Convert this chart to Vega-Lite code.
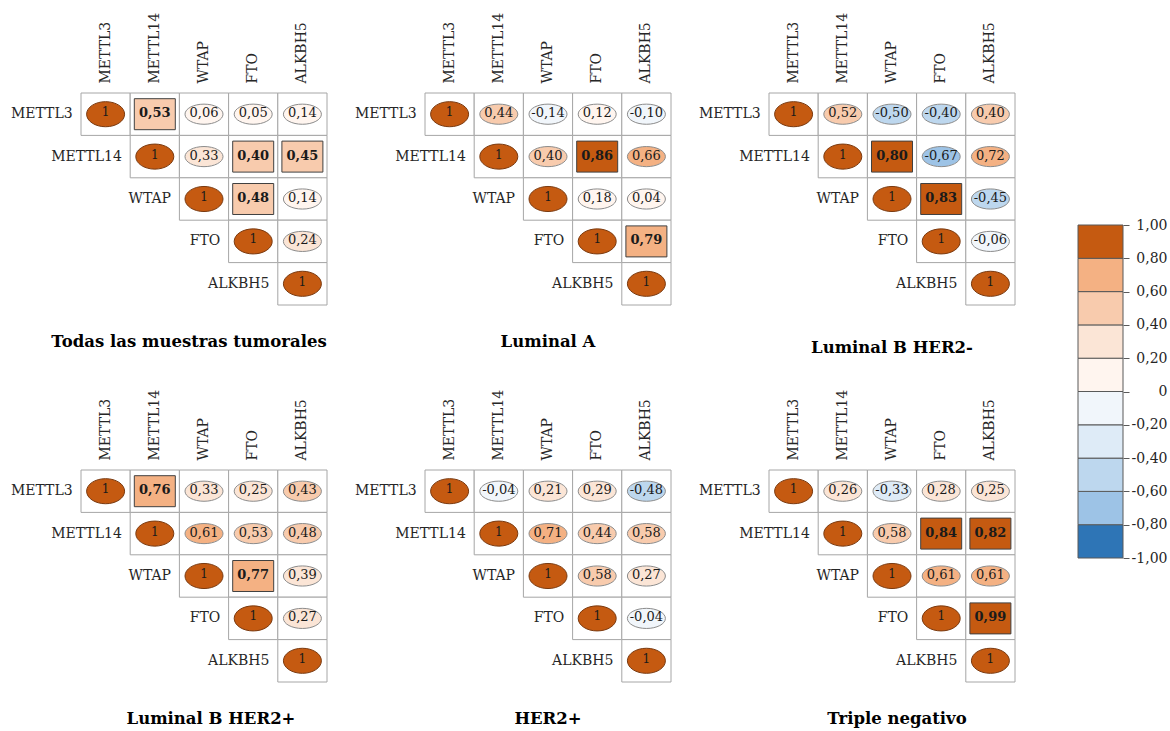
{
  "$schema": "https://vega.github.io/schema/vega-lite/v6.json",
  "padding": {"left": 10, "top": 12, "right": 5, "bottom": 5},
  "config": {
    "view": {"stroke": null},
    "font": "DejaVu Serif",
    "title": {"font": "DejaVu Serif", "fontSize": 16.5, "fontWeight": "bold", "color": "#000000", "orient": "bottom", "frame": "group", "offset": 28, "anchor": "middle"},
    "axis": {"labelFont": "DejaVu Serif", "labelColor": "#262626", "title": null, "grid": false}
  },
  "datasets": {
    "corr": [
      {"grupo": "Todas las muestras tumorales", "fila": "METTL3", "columna": "METTL3", "r": 1, "sig": false},
      {"grupo": "Todas las muestras tumorales", "fila": "METTL3", "columna": "METTL14", "r": 0.53, "sig": true},
      {"grupo": "Todas las muestras tumorales", "fila": "METTL3", "columna": "WTAP", "r": 0.06, "sig": false},
      {"grupo": "Todas las muestras tumorales", "fila": "METTL3", "columna": "FTO", "r": 0.05, "sig": false},
      {"grupo": "Todas las muestras tumorales", "fila": "METTL3", "columna": "ALKBH5", "r": 0.14, "sig": false},
      {"grupo": "Todas las muestras tumorales", "fila": "METTL14", "columna": "METTL14", "r": 1, "sig": false},
      {"grupo": "Todas las muestras tumorales", "fila": "METTL14", "columna": "WTAP", "r": 0.33, "sig": false},
      {"grupo": "Todas las muestras tumorales", "fila": "METTL14", "columna": "FTO", "r": 0.40, "sig": true},
      {"grupo": "Todas las muestras tumorales", "fila": "METTL14", "columna": "ALKBH5", "r": 0.45, "sig": true},
      {"grupo": "Todas las muestras tumorales", "fila": "WTAP", "columna": "WTAP", "r": 1, "sig": false},
      {"grupo": "Todas las muestras tumorales", "fila": "WTAP", "columna": "FTO", "r": 0.48, "sig": true},
      {"grupo": "Todas las muestras tumorales", "fila": "WTAP", "columna": "ALKBH5", "r": 0.14, "sig": false},
      {"grupo": "Todas las muestras tumorales", "fila": "FTO", "columna": "FTO", "r": 1, "sig": false},
      {"grupo": "Todas las muestras tumorales", "fila": "FTO", "columna": "ALKBH5", "r": 0.24, "sig": false},
      {"grupo": "Todas las muestras tumorales", "fila": "ALKBH5", "columna": "ALKBH5", "r": 1, "sig": false},

      {"grupo": "Luminal A", "fila": "METTL3", "columna": "METTL3", "r": 1, "sig": false},
      {"grupo": "Luminal A", "fila": "METTL3", "columna": "METTL14", "r": 0.44, "sig": false},
      {"grupo": "Luminal A", "fila": "METTL3", "columna": "WTAP", "r": -0.14, "sig": false},
      {"grupo": "Luminal A", "fila": "METTL3", "columna": "FTO", "r": 0.12, "sig": false},
      {"grupo": "Luminal A", "fila": "METTL3", "columna": "ALKBH5", "r": -0.10, "sig": false},
      {"grupo": "Luminal A", "fila": "METTL14", "columna": "METTL14", "r": 1, "sig": false},
      {"grupo": "Luminal A", "fila": "METTL14", "columna": "WTAP", "r": 0.40, "sig": false},
      {"grupo": "Luminal A", "fila": "METTL14", "columna": "FTO", "r": 0.86, "sig": true},
      {"grupo": "Luminal A", "fila": "METTL14", "columna": "ALKBH5", "r": 0.66, "sig": false},
      {"grupo": "Luminal A", "fila": "WTAP", "columna": "WTAP", "r": 1, "sig": false},
      {"grupo": "Luminal A", "fila": "WTAP", "columna": "FTO", "r": 0.18, "sig": false},
      {"grupo": "Luminal A", "fila": "WTAP", "columna": "ALKBH5", "r": 0.04, "sig": false},
      {"grupo": "Luminal A", "fila": "FTO", "columna": "FTO", "r": 1, "sig": false},
      {"grupo": "Luminal A", "fila": "FTO", "columna": "ALKBH5", "r": 0.79, "sig": true},
      {"grupo": "Luminal A", "fila": "ALKBH5", "columna": "ALKBH5", "r": 1, "sig": false},

      {"grupo": "Luminal B HER2-", "fila": "METTL3", "columna": "METTL3", "r": 1, "sig": false},
      {"grupo": "Luminal B HER2-", "fila": "METTL3", "columna": "METTL14", "r": 0.52, "sig": false},
      {"grupo": "Luminal B HER2-", "fila": "METTL3", "columna": "WTAP", "r": -0.50, "sig": false},
      {"grupo": "Luminal B HER2-", "fila": "METTL3", "columna": "FTO", "r": -0.40, "sig": false},
      {"grupo": "Luminal B HER2-", "fila": "METTL3", "columna": "ALKBH5", "r": 0.40, "sig": false},
      {"grupo": "Luminal B HER2-", "fila": "METTL14", "columna": "METTL14", "r": 1, "sig": false},
      {"grupo": "Luminal B HER2-", "fila": "METTL14", "columna": "WTAP", "r": 0.80, "sig": true},
      {"grupo": "Luminal B HER2-", "fila": "METTL14", "columna": "FTO", "r": -0.67, "sig": false},
      {"grupo": "Luminal B HER2-", "fila": "METTL14", "columna": "ALKBH5", "r": 0.72, "sig": false},
      {"grupo": "Luminal B HER2-", "fila": "WTAP", "columna": "WTAP", "r": 1, "sig": false},
      {"grupo": "Luminal B HER2-", "fila": "WTAP", "columna": "FTO", "r": 0.83, "sig": true},
      {"grupo": "Luminal B HER2-", "fila": "WTAP", "columna": "ALKBH5", "r": -0.45, "sig": false},
      {"grupo": "Luminal B HER2-", "fila": "FTO", "columna": "FTO", "r": 1, "sig": false},
      {"grupo": "Luminal B HER2-", "fila": "FTO", "columna": "ALKBH5", "r": -0.06, "sig": false},
      {"grupo": "Luminal B HER2-", "fila": "ALKBH5", "columna": "ALKBH5", "r": 1, "sig": false},

      {"grupo": "Luminal B HER2+", "fila": "METTL3", "columna": "METTL3", "r": 1, "sig": false},
      {"grupo": "Luminal B HER2+", "fila": "METTL3", "columna": "METTL14", "r": 0.76, "sig": true},
      {"grupo": "Luminal B HER2+", "fila": "METTL3", "columna": "WTAP", "r": 0.33, "sig": false},
      {"grupo": "Luminal B HER2+", "fila": "METTL3", "columna": "FTO", "r": 0.25, "sig": false},
      {"grupo": "Luminal B HER2+", "fila": "METTL3", "columna": "ALKBH5", "r": 0.43, "sig": false},
      {"grupo": "Luminal B HER2+", "fila": "METTL14", "columna": "METTL14", "r": 1, "sig": false},
      {"grupo": "Luminal B HER2+", "fila": "METTL14", "columna": "WTAP", "r": 0.61, "sig": false},
      {"grupo": "Luminal B HER2+", "fila": "METTL14", "columna": "FTO", "r": 0.53, "sig": false},
      {"grupo": "Luminal B HER2+", "fila": "METTL14", "columna": "ALKBH5", "r": 0.48, "sig": false},
      {"grupo": "Luminal B HER2+", "fila": "WTAP", "columna": "WTAP", "r": 1, "sig": false},
      {"grupo": "Luminal B HER2+", "fila": "WTAP", "columna": "FTO", "r": 0.77, "sig": true},
      {"grupo": "Luminal B HER2+", "fila": "WTAP", "columna": "ALKBH5", "r": 0.39, "sig": false},
      {"grupo": "Luminal B HER2+", "fila": "FTO", "columna": "FTO", "r": 1, "sig": false},
      {"grupo": "Luminal B HER2+", "fila": "FTO", "columna": "ALKBH5", "r": 0.27, "sig": false},
      {"grupo": "Luminal B HER2+", "fila": "ALKBH5", "columna": "ALKBH5", "r": 1, "sig": false},

      {"grupo": "HER2+", "fila": "METTL3", "columna": "METTL3", "r": 1, "sig": false},
      {"grupo": "HER2+", "fila": "METTL3", "columna": "METTL14", "r": -0.04, "sig": false},
      {"grupo": "HER2+", "fila": "METTL3", "columna": "WTAP", "r": 0.21, "sig": false},
      {"grupo": "HER2+", "fila": "METTL3", "columna": "FTO", "r": 0.29, "sig": false},
      {"grupo": "HER2+", "fila": "METTL3", "columna": "ALKBH5", "r": -0.48, "sig": false},
      {"grupo": "HER2+", "fila": "METTL14", "columna": "METTL14", "r": 1, "sig": false},
      {"grupo": "HER2+", "fila": "METTL14", "columna": "WTAP", "r": 0.71, "sig": false},
      {"grupo": "HER2+", "fila": "METTL14", "columna": "FTO", "r": 0.44, "sig": false},
      {"grupo": "HER2+", "fila": "METTL14", "columna": "ALKBH5", "r": 0.58, "sig": false},
      {"grupo": "HER2+", "fila": "WTAP", "columna": "WTAP", "r": 1, "sig": false},
      {"grupo": "HER2+", "fila": "WTAP", "columna": "FTO", "r": 0.58, "sig": false},
      {"grupo": "HER2+", "fila": "WTAP", "columna": "ALKBH5", "r": 0.27, "sig": false},
      {"grupo": "HER2+", "fila": "FTO", "columna": "FTO", "r": 1, "sig": false},
      {"grupo": "HER2+", "fila": "FTO", "columna": "ALKBH5", "r": -0.04, "sig": false},
      {"grupo": "HER2+", "fila": "ALKBH5", "columna": "ALKBH5", "r": 1, "sig": false},

      {"grupo": "Triple negativo", "fila": "METTL3", "columna": "METTL3", "r": 1, "sig": false},
      {"grupo": "Triple negativo", "fila": "METTL3", "columna": "METTL14", "r": 0.26, "sig": false},
      {"grupo": "Triple negativo", "fila": "METTL3", "columna": "WTAP", "r": -0.33, "sig": false},
      {"grupo": "Triple negativo", "fila": "METTL3", "columna": "FTO", "r": 0.28, "sig": false},
      {"grupo": "Triple negativo", "fila": "METTL3", "columna": "ALKBH5", "r": 0.25, "sig": false},
      {"grupo": "Triple negativo", "fila": "METTL14", "columna": "METTL14", "r": 1, "sig": false},
      {"grupo": "Triple negativo", "fila": "METTL14", "columna": "WTAP", "r": 0.58, "sig": false},
      {"grupo": "Triple negativo", "fila": "METTL14", "columna": "FTO", "r": 0.84, "sig": true},
      {"grupo": "Triple negativo", "fila": "METTL14", "columna": "ALKBH5", "r": 0.82, "sig": true},
      {"grupo": "Triple negativo", "fila": "WTAP", "columna": "WTAP", "r": 1, "sig": false},
      {"grupo": "Triple negativo", "fila": "WTAP", "columna": "FTO", "r": 0.61, "sig": false},
      {"grupo": "Triple negativo", "fila": "WTAP", "columna": "ALKBH5", "r": 0.61, "sig": false},
      {"grupo": "Triple negativo", "fila": "FTO", "columna": "FTO", "r": 1, "sig": false},
      {"grupo": "Triple negativo", "fila": "FTO", "columna": "ALKBH5", "r": 0.99, "sig": true},
      {"grupo": "Triple negativo", "fila": "ALKBH5", "columna": "ALKBH5", "r": 1, "sig": false}
    ]
  },
  "data": {"name": "corr"},
  "spacing": 61,
  "hconcat": [
    {
      "spacing": 33,
      "vconcat": [
        {
          "bounds": "flush",
          "spacing": 98,
          "hconcat": [
            {
              "width": 246, "height": 212,
              "title": {"text": "Todas las muestras tumorales", "dx": -15},
              "transform": [
                {"filter": "datum.grupo === 'Todas las muestras tumorales'"},
                {"calculate": "datum.r === 1 ? '1' : (datum.r < 0 ? '-' : '') + replace(format(abs(datum.r), '.2f'), '.', ',')", "as": "etiqueta"}
              ],
              "encoding": {
                "x": {"field": "columna", "type": "nominal", "scale": {"type": "band", "domain": ["METTL3", "METTL14", "WTAP", "FTO", "ALKBH5"], "paddingInner": 0, "paddingOuter": 0}, "axis": {"orient": "top", "labelAngle": -90, "domain": false, "ticks": false, "labelFontSize": 14, "labelPadding": 10}},
                "y": {"field": "fila", "type": "nominal", "scale": {"type": "band", "domain": ["METTL3", "METTL14", "WTAP", "FTO", "ALKBH5"], "paddingInner": 0, "paddingOuter": 0}, "axis": null}
              },
              "layer": [
                {"mark": {"type": "rect", "fill": "#ffffff", "stroke": "#A6A6A6", "strokeWidth": 1}},
                {
                  "transform": [{"filter": "!datum.sig"}],
                  "mark": {"type": "point", "filled": true, "size": 1444, "opacity": 1, "strokeWidth": 1},
                  "encoding": {
                    "color": {"field": "r", "type": "quantitative", "scale": {"type": "threshold", "domain": [-0.8, -0.6, -0.399, -0.2, 0, 0.2, 0.4, 0.6, 0.8], "range": ["#2E75B6", "#9DC3E6", "#BDD7EE", "#DEEBF7", "#F1F6FB", "#FFF5EF", "#FBE5D6", "#F8CBAD", "#F4B183", "#C55A11"]}, "legend": null},
                    "shape": {"condition": {"test": "datum.fila === datum.columna", "value": "M-1,0C-1,-0.365,-0.552,-0.66,0,-0.66C0.552,-0.66,1,-0.365,1,0C1,0.365,0.552,0.66,0,0.66C-0.552,0.66,-1,0.365,-1,0Z"}, "value": "M-1,0C-1,-0.293,-0.552,-0.53,0,-0.53C0.552,-0.53,1,-0.293,1,0C1,0.293,0.552,0.53,0,0.53C-0.552,0.53,-1,0.293,-1,0Z"},
                    "stroke": {"condition": {"test": "datum.fila === datum.columna", "value": "#7A3A10"}, "value": "#8C8C8C"}
                  }
                },
                {
                  "transform": [{"filter": "datum.sig"}],
                  "mark": {"type": "point", "filled": true, "size": 1681, "opacity": 1, "stroke": "#404040", "strokeWidth": 1, "shape": "M-1,-0.756H1V0.756H-1Z"},
                  "encoding": {"color": {"field": "r", "type": "quantitative", "scale": {"type": "threshold", "domain": [-0.8, -0.6, -0.399, -0.2, 0, 0.2, 0.4, 0.6, 0.8], "range": ["#2E75B6", "#9DC3E6", "#BDD7EE", "#DEEBF7", "#F1F6FB", "#FFF5EF", "#FBE5D6", "#F8CBAD", "#F4B183", "#C55A11"]}, "legend": null}}
                },
                {
                  "transform": [{"filter": "!datum.sig && datum.fila !== datum.columna"}],
                  "mark": {"type": "text", "fontSize": 13, "color": "#1A1A1A", "dy": -1},
                  "encoding": {"text": {"field": "etiqueta"}}
                },
                {
                  "transform": [{"filter": "datum.sig"}],
                  "mark": {"type": "text", "fontSize": 13, "fontWeight": "bold", "color": "#1A1A1A", "dy": -1},
                  "encoding": {"text": {"field": "etiqueta"}}
                },
                {
                  "transform": [{"filter": "datum.fila === datum.columna"}],
                  "mark": {"type": "text", "fontSize": 12, "color": "#1A1A1A", "dy": -2},
                  "encoding": {"text": {"field": "etiqueta"}}
                },
                {
                  "transform": [{"filter": "datum.fila === datum.columna"}],
                  "mark": {"type": "text", "fontSize": 14, "color": "#262626", "align": "right", "dx": -33},
                  "encoding": {"text": {"field": "fila"}}
                }
              ]
            },
            {
              "width": 246, "height": 212,
              "title": {"text": "Luminal A"},
              "transform": [
                {"filter": "datum.grupo === 'Luminal A'"},
                {"calculate": "datum.r === 1 ? '1' : (datum.r < 0 ? '-' : '') + replace(format(abs(datum.r), '.2f'), '.', ',')", "as": "etiqueta"}
              ],
              "encoding": {
                "x": {"field": "columna", "type": "nominal", "scale": {"type": "band", "domain": ["METTL3", "METTL14", "WTAP", "FTO", "ALKBH5"], "paddingInner": 0, "paddingOuter": 0}, "axis": {"orient": "top", "labelAngle": -90, "domain": false, "ticks": false, "labelFontSize": 14, "labelPadding": 10}},
                "y": {"field": "fila", "type": "nominal", "scale": {"type": "band", "domain": ["METTL3", "METTL14", "WTAP", "FTO", "ALKBH5"], "paddingInner": 0, "paddingOuter": 0}, "axis": null}
              },
              "layer": [
                {"mark": {"type": "rect", "fill": "#ffffff", "stroke": "#A6A6A6", "strokeWidth": 1}},
                {
                  "transform": [{"filter": "!datum.sig"}],
                  "mark": {"type": "point", "filled": true, "size": 1444, "opacity": 1, "strokeWidth": 1},
                  "encoding": {
                    "color": {"field": "r", "type": "quantitative", "scale": {"type": "threshold", "domain": [-0.8, -0.6, -0.399, -0.2, 0, 0.2, 0.4, 0.6, 0.8], "range": ["#2E75B6", "#9DC3E6", "#BDD7EE", "#DEEBF7", "#F1F6FB", "#FFF5EF", "#FBE5D6", "#F8CBAD", "#F4B183", "#C55A11"]}, "legend": null},
                    "shape": {"condition": {"test": "datum.fila === datum.columna", "value": "M-1,0C-1,-0.365,-0.552,-0.66,0,-0.66C0.552,-0.66,1,-0.365,1,0C1,0.365,0.552,0.66,0,0.66C-0.552,0.66,-1,0.365,-1,0Z"}, "value": "M-1,0C-1,-0.293,-0.552,-0.53,0,-0.53C0.552,-0.53,1,-0.293,1,0C1,0.293,0.552,0.53,0,0.53C-0.552,0.53,-1,0.293,-1,0Z"},
                    "stroke": {"condition": {"test": "datum.fila === datum.columna", "value": "#7A3A10"}, "value": "#8C8C8C"}
                  }
                },
                {
                  "transform": [{"filter": "datum.sig"}],
                  "mark": {"type": "point", "filled": true, "size": 1681, "opacity": 1, "stroke": "#404040", "strokeWidth": 1, "shape": "M-1,-0.756H1V0.756H-1Z"},
                  "encoding": {"color": {"field": "r", "type": "quantitative", "scale": {"type": "threshold", "domain": [-0.8, -0.6, -0.399, -0.2, 0, 0.2, 0.4, 0.6, 0.8], "range": ["#2E75B6", "#9DC3E6", "#BDD7EE", "#DEEBF7", "#F1F6FB", "#FFF5EF", "#FBE5D6", "#F8CBAD", "#F4B183", "#C55A11"]}, "legend": null}}
                },
                {
                  "transform": [{"filter": "!datum.sig && datum.fila !== datum.columna"}],
                  "mark": {"type": "text", "fontSize": 13, "color": "#1A1A1A", "dy": -1},
                  "encoding": {"text": {"field": "etiqueta"}}
                },
                {
                  "transform": [{"filter": "datum.sig"}],
                  "mark": {"type": "text", "fontSize": 13, "fontWeight": "bold", "color": "#1A1A1A", "dy": -1},
                  "encoding": {"text": {"field": "etiqueta"}}
                },
                {
                  "transform": [{"filter": "datum.fila === datum.columna"}],
                  "mark": {"type": "text", "fontSize": 12, "color": "#1A1A1A", "dy": -2},
                  "encoding": {"text": {"field": "etiqueta"}}
                },
                {
                  "transform": [{"filter": "datum.fila === datum.columna"}],
                  "mark": {"type": "text", "fontSize": 14, "color": "#262626", "align": "right", "dx": -33},
                  "encoding": {"text": {"field": "fila"}}
                }
              ]
            },
            {
              "width": 246, "height": 212,
              "title": {"text": "Luminal B HER2-", "offset": 34},
              "transform": [
                {"filter": "datum.grupo === 'Luminal B HER2-'"},
                {"calculate": "datum.r === 1 ? '1' : (datum.r < 0 ? '-' : '') + replace(format(abs(datum.r), '.2f'), '.', ',')", "as": "etiqueta"}
              ],
              "encoding": {
                "x": {"field": "columna", "type": "nominal", "scale": {"type": "band", "domain": ["METTL3", "METTL14", "WTAP", "FTO", "ALKBH5"], "paddingInner": 0, "paddingOuter": 0}, "axis": {"orient": "top", "labelAngle": -90, "domain": false, "ticks": false, "labelFontSize": 14, "labelPadding": 10}},
                "y": {"field": "fila", "type": "nominal", "scale": {"type": "band", "domain": ["METTL3", "METTL14", "WTAP", "FTO", "ALKBH5"], "paddingInner": 0, "paddingOuter": 0}, "axis": null}
              },
              "layer": [
                {"mark": {"type": "rect", "fill": "#ffffff", "stroke": "#A6A6A6", "strokeWidth": 1}},
                {
                  "transform": [{"filter": "!datum.sig"}],
                  "mark": {"type": "point", "filled": true, "size": 1444, "opacity": 1, "strokeWidth": 1},
                  "encoding": {
                    "color": {"field": "r", "type": "quantitative", "scale": {"type": "threshold", "domain": [-0.8, -0.6, -0.399, -0.2, 0, 0.2, 0.4, 0.6, 0.8], "range": ["#2E75B6", "#9DC3E6", "#BDD7EE", "#DEEBF7", "#F1F6FB", "#FFF5EF", "#FBE5D6", "#F8CBAD", "#F4B183", "#C55A11"]}, "legend": null},
                    "shape": {"condition": {"test": "datum.fila === datum.columna", "value": "M-1,0C-1,-0.365,-0.552,-0.66,0,-0.66C0.552,-0.66,1,-0.365,1,0C1,0.365,0.552,0.66,0,0.66C-0.552,0.66,-1,0.365,-1,0Z"}, "value": "M-1,0C-1,-0.293,-0.552,-0.53,0,-0.53C0.552,-0.53,1,-0.293,1,0C1,0.293,0.552,0.53,0,0.53C-0.552,0.53,-1,0.293,-1,0Z"},
                    "stroke": {"condition": {"test": "datum.fila === datum.columna", "value": "#7A3A10"}, "value": "#8C8C8C"}
                  }
                },
                {
                  "transform": [{"filter": "datum.sig"}],
                  "mark": {"type": "point", "filled": true, "size": 1681, "opacity": 1, "stroke": "#404040", "strokeWidth": 1, "shape": "M-1,-0.756H1V0.756H-1Z"},
                  "encoding": {"color": {"field": "r", "type": "quantitative", "scale": {"type": "threshold", "domain": [-0.8, -0.6, -0.399, -0.2, 0, 0.2, 0.4, 0.6, 0.8], "range": ["#2E75B6", "#9DC3E6", "#BDD7EE", "#DEEBF7", "#F1F6FB", "#FFF5EF", "#FBE5D6", "#F8CBAD", "#F4B183", "#C55A11"]}, "legend": null}}
                },
                {
                  "transform": [{"filter": "!datum.sig && datum.fila !== datum.columna"}],
                  "mark": {"type": "text", "fontSize": 13, "color": "#1A1A1A", "dy": -1},
                  "encoding": {"text": {"field": "etiqueta"}}
                },
                {
                  "transform": [{"filter": "datum.sig"}],
                  "mark": {"type": "text", "fontSize": 13, "fontWeight": "bold", "color": "#1A1A1A", "dy": -1},
                  "encoding": {"text": {"field": "etiqueta"}}
                },
                {
                  "transform": [{"filter": "datum.fila === datum.columna"}],
                  "mark": {"type": "text", "fontSize": 12, "color": "#1A1A1A", "dy": -2},
                  "encoding": {"text": {"field": "etiqueta"}}
                },
                {
                  "transform": [{"filter": "datum.fila === datum.columna"}],
                  "mark": {"type": "text", "fontSize": 14, "color": "#262626", "align": "right", "dx": -33},
                  "encoding": {"text": {"field": "fila"}}
                }
              ]
            }
          ]
        },
        {
          "bounds": "flush",
          "spacing": 98,
          "hconcat": [
            {
              "width": 246, "height": 212,
              "title": {"text": "Luminal B HER2+", "dx": 7},
              "transform": [
                {"filter": "datum.grupo === 'Luminal B HER2+'"},
                {"calculate": "datum.r === 1 ? '1' : (datum.r < 0 ? '-' : '') + replace(format(abs(datum.r), '.2f'), '.', ',')", "as": "etiqueta"}
              ],
              "encoding": {
                "x": {"field": "columna", "type": "nominal", "scale": {"type": "band", "domain": ["METTL3", "METTL14", "WTAP", "FTO", "ALKBH5"], "paddingInner": 0, "paddingOuter": 0}, "axis": {"orient": "top", "labelAngle": -90, "domain": false, "ticks": false, "labelFontSize": 14, "labelPadding": 10}},
                "y": {"field": "fila", "type": "nominal", "scale": {"type": "band", "domain": ["METTL3", "METTL14", "WTAP", "FTO", "ALKBH5"], "paddingInner": 0, "paddingOuter": 0}, "axis": null}
              },
              "layer": [
                {"mark": {"type": "rect", "fill": "#ffffff", "stroke": "#A6A6A6", "strokeWidth": 1}},
                {
                  "transform": [{"filter": "!datum.sig"}],
                  "mark": {"type": "point", "filled": true, "size": 1444, "opacity": 1, "strokeWidth": 1},
                  "encoding": {
                    "color": {"field": "r", "type": "quantitative", "scale": {"type": "threshold", "domain": [-0.8, -0.6, -0.399, -0.2, 0, 0.2, 0.4, 0.6, 0.8], "range": ["#2E75B6", "#9DC3E6", "#BDD7EE", "#DEEBF7", "#F1F6FB", "#FFF5EF", "#FBE5D6", "#F8CBAD", "#F4B183", "#C55A11"]}, "legend": null},
                    "shape": {"condition": {"test": "datum.fila === datum.columna", "value": "M-1,0C-1,-0.365,-0.552,-0.66,0,-0.66C0.552,-0.66,1,-0.365,1,0C1,0.365,0.552,0.66,0,0.66C-0.552,0.66,-1,0.365,-1,0Z"}, "value": "M-1,0C-1,-0.293,-0.552,-0.53,0,-0.53C0.552,-0.53,1,-0.293,1,0C1,0.293,0.552,0.53,0,0.53C-0.552,0.53,-1,0.293,-1,0Z"},
                    "stroke": {"condition": {"test": "datum.fila === datum.columna", "value": "#7A3A10"}, "value": "#8C8C8C"}
                  }
                },
                {
                  "transform": [{"filter": "datum.sig"}],
                  "mark": {"type": "point", "filled": true, "size": 1681, "opacity": 1, "stroke": "#404040", "strokeWidth": 1, "shape": "M-1,-0.756H1V0.756H-1Z"},
                  "encoding": {"color": {"field": "r", "type": "quantitative", "scale": {"type": "threshold", "domain": [-0.8, -0.6, -0.399, -0.2, 0, 0.2, 0.4, 0.6, 0.8], "range": ["#2E75B6", "#9DC3E6", "#BDD7EE", "#DEEBF7", "#F1F6FB", "#FFF5EF", "#FBE5D6", "#F8CBAD", "#F4B183", "#C55A11"]}, "legend": null}}
                },
                {
                  "transform": [{"filter": "!datum.sig && datum.fila !== datum.columna"}],
                  "mark": {"type": "text", "fontSize": 13, "color": "#1A1A1A", "dy": -1},
                  "encoding": {"text": {"field": "etiqueta"}}
                },
                {
                  "transform": [{"filter": "datum.sig"}],
                  "mark": {"type": "text", "fontSize": 13, "fontWeight": "bold", "color": "#1A1A1A", "dy": -1},
                  "encoding": {"text": {"field": "etiqueta"}}
                },
                {
                  "transform": [{"filter": "datum.fila === datum.columna"}],
                  "mark": {"type": "text", "fontSize": 12, "color": "#1A1A1A", "dy": -2},
                  "encoding": {"text": {"field": "etiqueta"}}
                },
                {
                  "transform": [{"filter": "datum.fila === datum.columna"}],
                  "mark": {"type": "text", "fontSize": 14, "color": "#262626", "align": "right", "dx": -33},
                  "encoding": {"text": {"field": "fila"}}
                }
              ]
            },
            {
              "width": 246, "height": 212,
              "title": {"text": "HER2+"},
              "transform": [
                {"filter": "datum.grupo === 'HER2+'"},
                {"calculate": "datum.r === 1 ? '1' : (datum.r < 0 ? '-' : '') + replace(format(abs(datum.r), '.2f'), '.', ',')", "as": "etiqueta"}
              ],
              "encoding": {
                "x": {"field": "columna", "type": "nominal", "scale": {"type": "band", "domain": ["METTL3", "METTL14", "WTAP", "FTO", "ALKBH5"], "paddingInner": 0, "paddingOuter": 0}, "axis": {"orient": "top", "labelAngle": -90, "domain": false, "ticks": false, "labelFontSize": 14, "labelPadding": 10}},
                "y": {"field": "fila", "type": "nominal", "scale": {"type": "band", "domain": ["METTL3", "METTL14", "WTAP", "FTO", "ALKBH5"], "paddingInner": 0, "paddingOuter": 0}, "axis": null}
              },
              "layer": [
                {"mark": {"type": "rect", "fill": "#ffffff", "stroke": "#A6A6A6", "strokeWidth": 1}},
                {
                  "transform": [{"filter": "!datum.sig"}],
                  "mark": {"type": "point", "filled": true, "size": 1444, "opacity": 1, "strokeWidth": 1},
                  "encoding": {
                    "color": {"field": "r", "type": "quantitative", "scale": {"type": "threshold", "domain": [-0.8, -0.6, -0.399, -0.2, 0, 0.2, 0.4, 0.6, 0.8], "range": ["#2E75B6", "#9DC3E6", "#BDD7EE", "#DEEBF7", "#F1F6FB", "#FFF5EF", "#FBE5D6", "#F8CBAD", "#F4B183", "#C55A11"]}, "legend": null},
                    "shape": {"condition": {"test": "datum.fila === datum.columna", "value": "M-1,0C-1,-0.365,-0.552,-0.66,0,-0.66C0.552,-0.66,1,-0.365,1,0C1,0.365,0.552,0.66,0,0.66C-0.552,0.66,-1,0.365,-1,0Z"}, "value": "M-1,0C-1,-0.293,-0.552,-0.53,0,-0.53C0.552,-0.53,1,-0.293,1,0C1,0.293,0.552,0.53,0,0.53C-0.552,0.53,-1,0.293,-1,0Z"},
                    "stroke": {"condition": {"test": "datum.fila === datum.columna", "value": "#7A3A10"}, "value": "#8C8C8C"}
                  }
                },
                {
                  "transform": [{"filter": "datum.sig"}],
                  "mark": {"type": "point", "filled": true, "size": 1681, "opacity": 1, "stroke": "#404040", "strokeWidth": 1, "shape": "M-1,-0.756H1V0.756H-1Z"},
                  "encoding": {"color": {"field": "r", "type": "quantitative", "scale": {"type": "threshold", "domain": [-0.8, -0.6, -0.399, -0.2, 0, 0.2, 0.4, 0.6, 0.8], "range": ["#2E75B6", "#9DC3E6", "#BDD7EE", "#DEEBF7", "#F1F6FB", "#FFF5EF", "#FBE5D6", "#F8CBAD", "#F4B183", "#C55A11"]}, "legend": null}}
                },
                {
                  "transform": [{"filter": "!datum.sig && datum.fila !== datum.columna"}],
                  "mark": {"type": "text", "fontSize": 13, "color": "#1A1A1A", "dy": -1},
                  "encoding": {"text": {"field": "etiqueta"}}
                },
                {
                  "transform": [{"filter": "datum.sig"}],
                  "mark": {"type": "text", "fontSize": 13, "fontWeight": "bold", "color": "#1A1A1A", "dy": -1},
                  "encoding": {"text": {"field": "etiqueta"}}
                },
                {
                  "transform": [{"filter": "datum.fila === datum.columna"}],
                  "mark": {"type": "text", "fontSize": 12, "color": "#1A1A1A", "dy": -2},
                  "encoding": {"text": {"field": "etiqueta"}}
                },
                {
                  "transform": [{"filter": "datum.fila === datum.columna"}],
                  "mark": {"type": "text", "fontSize": 14, "color": "#262626", "align": "right", "dx": -33},
                  "encoding": {"text": {"field": "fila"}}
                }
              ]
            },
            {
              "width": 246, "height": 212,
              "title": {"text": "Triple negativo", "dx": 5},
              "transform": [
                {"filter": "datum.grupo === 'Triple negativo'"},
                {"calculate": "datum.r === 1 ? '1' : (datum.r < 0 ? '-' : '') + replace(format(abs(datum.r), '.2f'), '.', ',')", "as": "etiqueta"}
              ],
              "encoding": {
                "x": {"field": "columna", "type": "nominal", "scale": {"type": "band", "domain": ["METTL3", "METTL14", "WTAP", "FTO", "ALKBH5"], "paddingInner": 0, "paddingOuter": 0}, "axis": {"orient": "top", "labelAngle": -90, "domain": false, "ticks": false, "labelFontSize": 14, "labelPadding": 10}},
                "y": {"field": "fila", "type": "nominal", "scale": {"type": "band", "domain": ["METTL3", "METTL14", "WTAP", "FTO", "ALKBH5"], "paddingInner": 0, "paddingOuter": 0}, "axis": null}
              },
              "layer": [
                {"mark": {"type": "rect", "fill": "#ffffff", "stroke": "#A6A6A6", "strokeWidth": 1}},
                {
                  "transform": [{"filter": "!datum.sig"}],
                  "mark": {"type": "point", "filled": true, "size": 1444, "opacity": 1, "strokeWidth": 1},
                  "encoding": {
                    "color": {"field": "r", "type": "quantitative", "scale": {"type": "threshold", "domain": [-0.8, -0.6, -0.399, -0.2, 0, 0.2, 0.4, 0.6, 0.8], "range": ["#2E75B6", "#9DC3E6", "#BDD7EE", "#DEEBF7", "#F1F6FB", "#FFF5EF", "#FBE5D6", "#F8CBAD", "#F4B183", "#C55A11"]}, "legend": null},
                    "shape": {"condition": {"test": "datum.fila === datum.columna", "value": "M-1,0C-1,-0.365,-0.552,-0.66,0,-0.66C0.552,-0.66,1,-0.365,1,0C1,0.365,0.552,0.66,0,0.66C-0.552,0.66,-1,0.365,-1,0Z"}, "value": "M-1,0C-1,-0.293,-0.552,-0.53,0,-0.53C0.552,-0.53,1,-0.293,1,0C1,0.293,0.552,0.53,0,0.53C-0.552,0.53,-1,0.293,-1,0Z"},
                    "stroke": {"condition": {"test": "datum.fila === datum.columna", "value": "#7A3A10"}, "value": "#8C8C8C"}
                  }
                },
                {
                  "transform": [{"filter": "datum.sig"}],
                  "mark": {"type": "point", "filled": true, "size": 1681, "opacity": 1, "stroke": "#404040", "strokeWidth": 1, "shape": "M-1,-0.756H1V0.756H-1Z"},
                  "encoding": {"color": {"field": "r", "type": "quantitative", "scale": {"type": "threshold", "domain": [-0.8, -0.6, -0.399, -0.2, 0, 0.2, 0.4, 0.6, 0.8], "range": ["#2E75B6", "#9DC3E6", "#BDD7EE", "#DEEBF7", "#F1F6FB", "#FFF5EF", "#FBE5D6", "#F8CBAD", "#F4B183", "#C55A11"]}, "legend": null}}
                },
                {
                  "transform": [{"filter": "!datum.sig && datum.fila !== datum.columna"}],
                  "mark": {"type": "text", "fontSize": 13, "color": "#1A1A1A", "dy": -1},
                  "encoding": {"text": {"field": "etiqueta"}}
                },
                {
                  "transform": [{"filter": "datum.sig"}],
                  "mark": {"type": "text", "fontSize": 13, "fontWeight": "bold", "color": "#1A1A1A", "dy": -1},
                  "encoding": {"text": {"field": "etiqueta"}}
                },
                {
                  "transform": [{"filter": "datum.fila === datum.columna"}],
                  "mark": {"type": "text", "fontSize": 12, "color": "#1A1A1A", "dy": -2},
                  "encoding": {"text": {"field": "etiqueta"}}
                },
                {
                  "transform": [{"filter": "datum.fila === datum.columna"}],
                  "mark": {"type": "text", "fontSize": 14, "color": "#262626", "align": "right", "dx": -33},
                  "encoding": {"text": {"field": "fila"}}
                }
              ]
            }
          ]
        }
      ]
    },
    {
      "width": 45,
      "height": 465,
      "data": {
        "values": [
          {"desde": -1.0, "hasta": -0.8, "centro": -0.9},
          {"desde": -0.8, "hasta": -0.6, "centro": -0.7},
          {"desde": -0.6, "hasta": -0.4, "centro": -0.5},
          {"desde": -0.4, "hasta": -0.2, "centro": -0.3},
          {"desde": -0.2, "hasta": 0.0, "centro": -0.1},
          {"desde": 0.0, "hasta": 0.2, "centro": 0.1},
          {"desde": 0.2, "hasta": 0.4, "centro": 0.3},
          {"desde": 0.4, "hasta": 0.6, "centro": 0.5},
          {"desde": 0.6, "hasta": 0.8, "centro": 0.7},
          {"desde": 0.8, "hasta": 1.0, "centro": 0.9}
        ]
      },
      "mark": {"type": "rect", "stroke": "#595959", "strokeWidth": 1},
      "encoding": {
        "y": {
          "field": "desde", "type": "quantitative",
          "scale": {"domain": [-1, 1.7928], "nice": false, "zero": false},
          "axis": {"orient": "right", "values": [-1, -0.8, -0.6, -0.4, -0.2, 0, 0.2, 0.4, 0.6, 0.8, 1], "labelExpr": "datum.value === 0 ? '0' : (datum.value < 0 ? '-' : '') + replace(format(abs(datum.value), '.2f'), '.', ',')", "domain": false, "ticks": true, "tickSize": 6, "tickColor": "#595959", "labelFontSize": 14, "labelAlign": "right", "labelPadding": 38, "labelColor": "#262626"}
        },
        "y2": {"field": "hasta"},
        "color": {"field": "centro", "type": "quantitative", "scale": {"type": "threshold", "domain": [-0.8, -0.6, -0.399, -0.2, 0, 0.2, 0.4, 0.6, 0.8], "range": ["#2E75B6", "#9DC3E6", "#BDD7EE", "#DEEBF7", "#F1F6FB", "#FFF5EF", "#FBE5D6", "#F8CBAD", "#F4B183", "#C55A11"]}, "legend": null}
      }
    }
  ]
}
